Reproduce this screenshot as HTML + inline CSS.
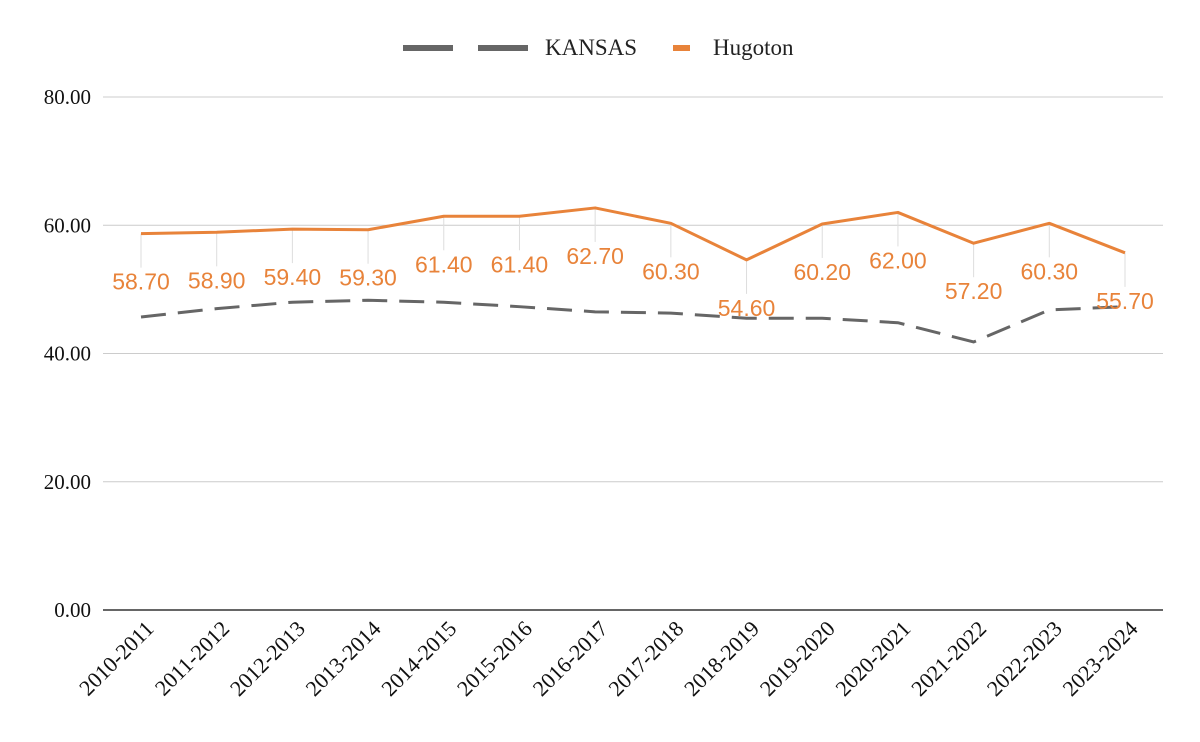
<!DOCTYPE html>
<html><head><meta charset="utf-8"><style>
body{margin:0;background:#fff;}
svg{display:block;}
</style></head><body>
<svg id="chart" width="1200" height="742" xmlns="http://www.w3.org/2000/svg">
<g>
<line x1="403" y1="48" x2="528" y2="48" stroke="#666" stroke-width="6" stroke-dasharray="50 25"/>
<text x="545" y="55" font-family="Liberation Serif, serif" font-size="23" fill="#222">KANSAS</text>
<rect x="673" y="45" width="17" height="6" fill="#e8833a"/>
<text x="713" y="55" font-family="Liberation Serif, serif" font-size="23" fill="#222">Hugoton</text>
</g>
<g id="grid"></g><g id="marks"></g>
</svg>
<script>
const categories=["2010-2011","2011-2012","2012-2013","2013-2014","2014-2015","2015-2016","2016-2017","2017-2018","2018-2019","2019-2020","2020-2021","2021-2022","2022-2023","2023-2024"];
const hugoton=[58.7,58.9,59.4,59.3,61.4,61.4,62.7,60.3,54.6,60.2,62.0,57.2,60.3,55.7];
const kansas=[45.7,47.0,48.0,48.3,48.0,47.3,46.5,46.3,45.5,45.5,44.8,41.8,46.8,47.3];
const yTicks=[0,20,40,60,80];
const NS="http://www.w3.org/2000/svg";
const y=v=>610-v*(513/80);
const x=i=>141+i*(984/13);
function mk(t,a,p){const e=document.createElementNS(NS,t);for(const k in a)e.setAttribute(k,a[k]);p.appendChild(e);return e;}
const grid=document.getElementById('grid'),marks=document.getElementById('marks');
yTicks.forEach(t=>{
 const l=mk('line',{x1:103,x2:1163,y1:y(t),y2:y(t),stroke:t===0?'#333':'#ccc','stroke-width':t===0?1.5:1},grid);
 
 
 const tx=mk('text',{x:91,y:y(t)+7,'text-anchor':'end','font-family':'Liberation Serif, serif','font-size':21,fill:'#111'},grid);
 tx.textContent=t.toFixed(2);
 
 
});
categories.forEach((c,i)=>{
 const tx=mk('text',{transform:`translate(${x(i)+14},${630}) rotate(-45)`,'text-anchor':'end','font-family':'Liberation Serif, serif','font-size':22,fill:'#111'},grid);
 tx.textContent=c;
 
 
 const ld=mk('line',{x1:x(i),x2:x(i),y1:y(hugoton[i]),y2:y(hugoton[i])+34,stroke:'#ddd','stroke-width':1},grid);
 
 
});
const kp=mk('polyline',{points:kansas.map((v,i)=>x(i)+','+y(v)).join(' '),fill:'none',stroke:'#666','stroke-width':3,'stroke-dasharray':'25 12'},marks);


const hp=mk('polyline',{points:hugoton.map((v,i)=>x(i)+','+y(v)).join(' '),fill:'none',stroke:'#e8833a','stroke-width':3,'stroke-linejoin':'round'},marks);


hugoton.forEach((v,i)=>{
 const tx=mk('text',{x:x(i),y:y(v)+56,'text-anchor':'middle','font-family':'Liberation Sans, sans-serif','font-size':23,fill:'#e8833a'},marks);
 tx.textContent=v.toFixed(2);
 
 
});
</script>
</body></html>
